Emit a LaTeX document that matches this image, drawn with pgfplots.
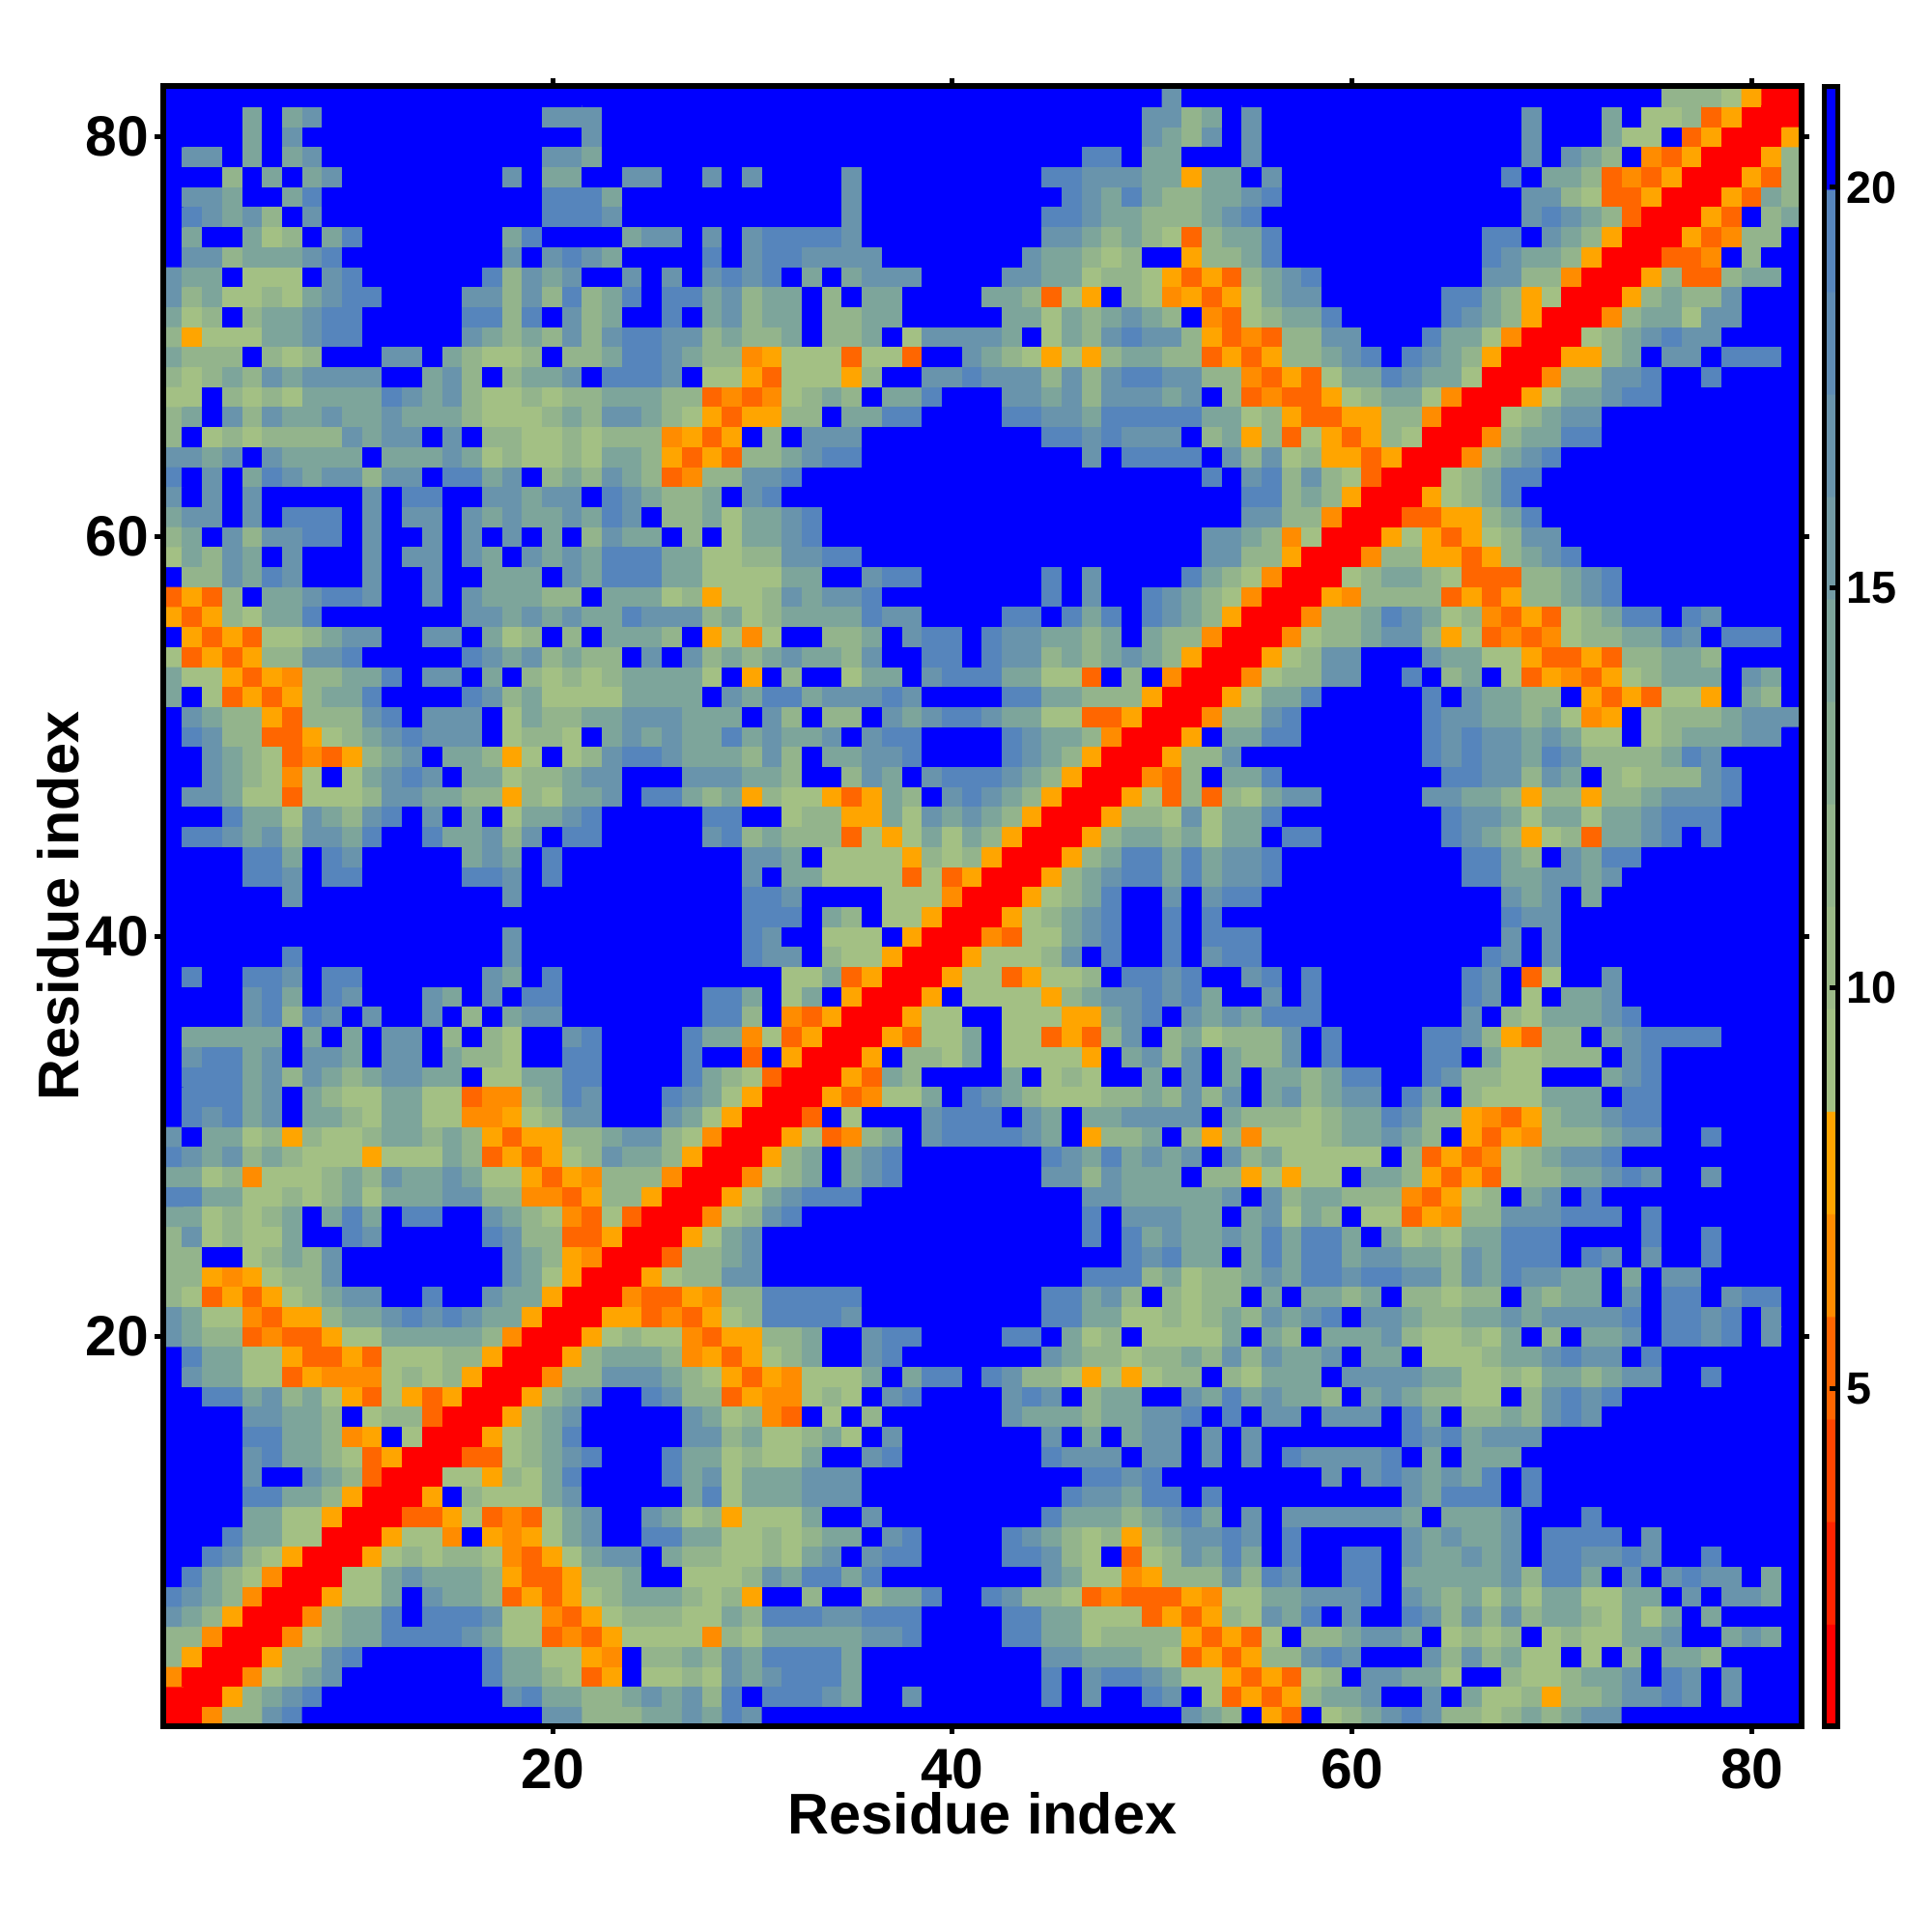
\documentclass[border=0pt]{standalone}
\usepackage{fontspec}
\setmainfont{Liberation Sans}
\usepackage{pgfplots}
\pgfplotsset{compat=1.18}
\pgfplotsset{colormap={distbands}{
rgb255(0)=(255,0,0) rgb255(1275)=(255,0,0)
rgb255(1280)=(255,36,0) rgb255(2555)=(255,36,0)
rgb255(2560)=(255,69,0) rgb255(3835)=(255,69,0)
rgb255(3840)=(255,102,0) rgb255(5115)=(255,102,0)
rgb255(5120)=(255,140,0) rgb255(6395)=(255,140,0)
rgb255(6400)=(255,165,0) rgb255(7675)=(255,165,0)
rgb255(7680)=(163,192,132) rgb255(8955)=(163,192,132)
rgb255(8960)=(155,185,135) rgb255(10235)=(155,185,135)
rgb255(10240)=(147,180,140) rgb255(11515)=(147,180,140)
rgb255(11520)=(135,172,145) rgb255(12795)=(135,172,145)
rgb255(12800)=(125,165,155) rgb255(14075)=(125,165,155)
rgb255(14080)=(115,155,165) rgb255(15355)=(115,155,165)
rgb255(15360)=(105,148,172) rgb255(16635)=(105,148,172)
rgb255(16640)=(95,140,180) rgb255(17915)=(95,140,180)
rgb255(17920)=(86,133,188) rgb255(19195)=(86,133,188)
rgb255(19200)=(0,0,255) rgb255(20480)=(0,0,255)
}}
% Cell values: one digit per residue, rows from index 82 (top) down to 1.
% Digit = distance class, value in \cellval.
\newcount\rowy \rowy=82
\newcount\colx
\newtoks\alldata
\newtoks\rowdata
\def\Rowstop{\Rowstop}
\def\cellval#1{\ifcase#1 21\or 19.3\or 16.75\or 14.2\or 11.65\or 9.1\or 7.8\or 6.55\or 5.27\or 1.4\fi}
\def\addcell#1{\advance\colx by 1 \ifnum\colx<83 \edef\tmp{\the\rowdata (\the\colx,\the\rowy) [\cellval{#1}] }\rowdata=\expandafter{\tmp}\fi}
\def\scan#1{\ifx#1\Rowstop\let\next\pad\else\addcell{#1}\let\next\scan\fi\next}
\def\pad{\ifnum\colx<82 \addcell{0}\expandafter\pad\fi}
\def\R#1{\colx=0 \rowdata={}\scan#1\Rowstop \edef\tmp{\the\rowdata\the\alldata}\alldata=\expandafter{\tmp}\advance\rowy by -1 }
\R{0000000000 0000000000 0000000 0000000000 0000000000 000 2 000 0000000000 0000000000 0 4445699}
\R{0000303200 0000000002 2200000 0000000000 0000000000 00 22430 2 0000000000 000 2 000 3 0 55486999}
\R{0000302000 0000000000 0200000 0000000000 0000000000 00 23420 2 0000000000 000 2 000 3 55086 9996}
\R{0220303200 0000000002 2300000 0000000000 000000000 11033000 2 0000000000 000 2 02340 786 99964}
\R{0004030320 0000000203 3002200 2020000 2 000000000 11 222 33 6 33 02 00000000000 1 0334 8786 999 684}
\R{0223003100 0000000001 1130000 0000000 2 0000000000 1 2 3 1 3 4 4 3 3 21 000000000000 2245 886 999 6834}
\R{0123240200 0000000001 1120000 0000000 2 000000000 1 1 2 3 3 4 4 4 3 2 1 0000000000000 212348 999 68043}
\R{0300354031 0000000310 0003220 2 0 2 1 1 1 1 2 000000000 2 2 3 4 3 4 5 8 4 3 31 0000000000 1102346 999 687440}
\R{0224333210 0000000202 1230000 1 0 2 1 1 2 2 2 2 0000000 2 3 3 4 5 4 0 0 6 4 4 31 0000000000 123346 999 887 0400}
\R{2330555021 0000001423 2002020 2 1 2 1 0 3 0 3 2 2 2 0000 2 2 3 3 5 4 4 5 6 8 6 8 4321 00000000 22447 999 64884 330}
\R{2435545321 1000022424 1431011 3 2 4 3 3 0 4 0 3 3 0000 3 3 4 8 5 6 0 4 5 7 6 8 6 5322 000000 113465 999 643442 000}
\R{3540433211 0000011410 2430010 3 2 4 3 3 0 4 4 3 3 00000 3 3 5 3 4 3 2 3 4 0 7 8 54331 00000 12346 999 7433522 000}
\R{4655533211 0000023434 2421122 4 3 4 4 3 0 4 4 3 0 5 2 2 2 2 3 0 5 3 4 2 1 2 2 4 6 8 784422 000 13357 999 5432122 0000}
\R{3444045400 0220345540 4431123 4 4 7 6 5 5 5 8 5 5 8 0 0 2 3 4 5 6 5 6 4 3 3 4 4 8 6 8644321 0 12346 999 66430 220 1110}
\R{4543423222 2003240433 2011120 5 5 6 8 5 5 5 6 4 0 0 2 2 1 2 2 2 4 2 4 2 1 1 2 2 4 4 786853312335 999 744221 001 0000}
\R{5504545333 3123245545 4433344 8 7 8 7 5 4 3 4 0 3 3 1 000 2 2 3 2 4 2 2 2 3 2 0 4 87886543357 999 6533211 0000000}
\R{4302423323 3233345554 3422345 6 8 6 6 4 4 0 3 3 1 1 0000 1 1 2 2 3 1 1 1 1 1 3 3 5468866447 999 543 22 0000000000}
\R{4054544442 3220204455 4544476 8 6 0 4 0 2 2 2 000000000 1 1 2 1 2 2 2 0 4 3 648568645 999 7433 11 0000000000}
\R{2232023333 0333235455 4533468 6 8 4 4 3 2 1 1 00000000000 2 0 1 1 1 1 0 2 42546686 999 74321 000000000000}
\R{1020312322 4220113204 3423487 4 4 2 2 1 00000000000000000000 1 0 2142458 999 54311 0000000000000}
\R{2020200000 2011002232 2012344 3 0 2 1 00000000000000000000000 114346 999 65431 00000000000000}
\R{3220201110 2022023233 2312044 3 5 3 3 2 1 000000000000000000000 22447 999 886643 1 0000000000000}
\R{4302422110 2002020203 0423304 0 5 3 3 2 1 0000000000000000000 2 2 3475 999 65686542 2 000000000000}
\R{5342302000 2022023023 2311133 5 5 4 4 2 2 1 1 00000000000000000 2 2 446 999 74466864321 00000000000}
\R{0442312000 2002003330 2311133 5 5 5 5 3 3 0 0 2 1 1 000000 1 0 2 0000 1 3 4 57 999 5433458 88 44321 000000000}
\R{8684033211 2002023334 4033354 6 5 5 4 2 3 2 2 1 00000000 1 0 2 0 0 1 2 3 4 5 7 999 6744448686 44321 000000000}
\R{6864533100 0000022323 2331222 4 3 5 4 3 3 3 3 1 2 2 0000 1 1 0 1 3 1 0 1 2 3 4 6 999 7443123547868 5431 10 12 0000}
\R{0 6 8 6 8 5 5 4 3 2 2 0 0 2 2 0 3 5 4 0 4 0 3 3 3 4 0 6 5 7 5 0 0 4 4 3 0 2 1 1 0 1 2 2 3 3 4 3 0 3 4 4 7 9 9 9 7 5 4 4 3 2 2 4 6 5 8 7 8 7 5 4 4 3 3 1 2 0 1 1 1 0}
\R{5 8 6 8 6 4 4 2 2 1 0 0 0 0 0 1 2 3 2 4 3 4 4 0 2 0 2 4 3 4 3 2 3 3 4 2 0 0 1 1 0 1 2 2 4 3 4 3 2 3 4 6 9 9 9 6 5 4 2 2 0 0 0 2 3 3 5 5 6 8 8 6 8 4 4 3 3 4 0 0 0 0}
\R{3 5 5 6 8 6 7 4 4 3 3 1 0 2 2 0 3 0 4 5 4 5 4 3 3 3 3 5 0 6 0 4 0 0 5 3 3 0 2 1 1 1 3 3 5 5 8 0 4 0 7 9 9 9 7 5 4 4 2 2 0 0 1 0 4 3 0 5 8 6 7 8 6 5 4 3 3 3 0 2 3 0}
\R{3 0 5 8 6 8 6 4 3 3 1 0 0 0 0 1 2 4 3 5 5 5 5 3 3 3 3 0 2 3 1 1 3 2 2 2 1 2 0 0 0 0 1 1 3 3 4 4 4 6 9 9 9 6 5 3 3 1 0 0 0 0 0 1 0 2 3 3 4 4 0 6 8 6 8 5 5 6 0 3 4 0}
\R{0 2 3 4 4 6 8 4 4 4 2 1 0 2 2 2 0 5 3 4 4 3 3 2 2 2 3 3 3 0 2 4 0 4 4 0 2 3 2 1 1 2 3 3 5 5 8 8 6 9 9 9 7 4 4 2 1 0 0 0 0 0 0 1 2 2 3 3 4 3 5 7 6 0 5 4 4 4 3 2 2 2}
\R{0 1 2 4 4 8 8 6 5 4 3 2 1 2 2 2 0 5 4 4 5 0 3 2 3 2 3 3 1 3 2 3 3 2 0 2 1 1 0 0 0 0 1 2 3 3 4 7 9 9 9 6 0 3 3 1 1 0 0 0 0 0 0 1 2 1 2 2 3 2 3 5 5 0 5 4 3 3 3 2 2 0}
\R{0 0 2 3 4 5 8 7 8 6 4 3 2 0 3 3 4 6 5 0 5 4 2 1 1 2 3 3 3 4 2 4 0 3 3 2 2 1 0 0 0 0 1 2 3 4 6 9 9 9 6 4 4 2 000000000 1 2 1 2 2 3 1 2 4 4 4 4 3 1 2 0 0 0 0}
\R{0 0 2 3 4 5 7 5 0 5 3 2 1 2 0 3 3 5 4 4 3 2 2 0 0 0 2 2 2 3 3 4 0 0 4 2 3 0 2 1 1 1 2 3 4 6 9 9 9 7 8 4 0 3 3 1 00000000 1 1 2 2 4 2 3 0 4 5 4 4 4 2 1 0 0 0}
\R{0 2 2 3 5 5 8 5 5 5 4 2 2 3 3 4 4 6 4 5 3 3 2 0 1 1 3 4 3 6 4 5 5 6 8 6 3 4 0 2 1 2 3 4 6 9 9 9 6 5 8 4 8 4 5 3 2 2 00000 2 2 3 3 4 6 4 4 6 4 4 3 2 2 2 1 0 0 0}
\R{0 0 0 1 3 3 5 2 3 4 2 1 0 2 0 3 0 5 3 3 2 1 0 0 0 0 0 1 1 0 0 5 4 4 6 6 3 5 2 3 2 3 4 6 9 9 9 6 4 4 5 2 5 3 3 1 00000000 1 2 2 3 5 3 3 5 3 3 2 1 1 1 0000}
\R{0 1 1 2 3 2 4 2 2 3 1 0 0 1 3 3 2 4 2 0 1 1 00000 2 1 4 3 4 4 4 8 5 6 5 3 5 3 4 6 9 9 9 6 4 3 3 4 3 5 3 3 0 1 1 000000 1 2 3 4 6 5 4 8 3 3 2 1 0 1 0000}
\R{0 0 0 0 1 1 3 0 1 2 0 0 0 0 0 3 2 3 0 1 0000000 0 0 2 2 3 0 5 5 5 5 6 4 5 4 6 9 9 9 6 4 3 1 1 3 1 3 2 2 1 000000000 1 1 3 4 0 2 3 1 1 00000000}
\R{0000 1 1 2 0 1 1 00000 1 1 2 0 1 0000000 0 0 2 0 3 3 5 5 5 5 8 5 8 6 9 9 9 6 4 3 2 1 1 3 1 3 2 2 1 000000000 1 1 3 3 2 2 3 2 000000000}
\R{0000002 0000000000 2 000000000 0 0 1 1 2 0 0 0 0 5 5 5 7 9 9 9 6 5 4 3 1 0 0 2 0 2 1 1 000000000000 2 3 2 0 3 0000000000}
\R{000000000000000000000000000 0 0 1 1 1 0 3 4 0 5 5 6 9 9 9 6 5 4 3 2 1 0 0 1 0 1 0 0000000000000 1 2 2 000000000000}
\R{00000000000000000 2 000000000 0 0 1 2 0 0 5 5 5 0 6 9 9 9 7 8 5 5 3 2 1 0 0 1 0 1 1 1 000000000000 2 0 2 000000000000}
\R{000000 1 0000000000 2 000000000 0 0 1 2 2 0 4 5 5 6 9 9 9 6 5 5 5 4 2 0 1 0 0 1 0 2 1 1 00000000000 1 2 0 2 000000000000}
\R{0 1 0 0 1 1 2 0 1 1 0 0 0 0 0 0 2 3 0 1 0000000 0 0 0 0 5 5 3 8 6 9 9 9 6 5 5 8 6 5 5 4 0 1 1 2 1 0 0 2 1 0 1 0000000 1 2 0 8 5 0 0 2 000000000}
\R{0 0 0 0 2 1 3 0 1 2 0 0 0 2 3 0 2 0 1 1 0000000 1 1 3 0 5 3 0 6 9 9 9 6 0 5 5 5 5 6 4 3 2 2 1 2 1 3 0 0 2 0 1 0000000 1 2 0 5 0 3 3 2 000000000}
\R{0 0 0 0 2 1 4 1 2 0 2 0 0 2 0 4 0 3 2 2 0000000 1 1 4 0 7 8 6 9 9 9 6 5 5 0 0 5 5 5 6 6 3 2 1 0 2 3 2 3 1 1 1 0000000 2 0 4 5 3 3 3 2 1 00000000}
\R{0 3 3 3 3 3 0 3 0 3 0 2 2 0 4 0 4 5 0 0 2 1 0 0 0 0 1 3 3 7 5 8 6 9 9 9 6 8 5 5 3 0 5 5 8 6 8 4 2 0 4 3 5 4 4 4 2 0 1 0000 1 1 2 4 6 8 4 4 0 3 2 1 1 1 1 0000}
\R{0 2 1 1 3 2 0 2 2 3 0 2 2 0 3 4 4 5 0 0 1 1 0 0 0 0 1 0 0 8 0 6 9 9 9 6 0 4 4 5 3 0 5 5 5 5 6 0 3 2 4 2 0 3 4 4 2 0 1 0000 1 1 0 3 5 5 4 4 4 0 2 1 0000000}
\R{0 1 1 1 3 2 4 2 3 4 3 2 2 3 3 0 5 5 3 3 1 1 0 0 0 0 1 3 4 5 8 9 9 9 6 8 3 4 0 0 0 0 3 0 5 4 5 0 0 3 0 2 0 3 0 3 3 4 3 1 1 0 0 1 2 4 4 5 5 0 0 0 3 2 1 0000000}
\R{0 1 1 1 3 2 0 3 4 5 5 3 3 5 5 8 7 7 4 3 1 2 0 0 0 1 2 3 5 6 9 9 9 6 8 7 5 5 3 0 1 2 3 4 5 5 5 4 4 3 4 2 4 2 0 3 2 4 3 2 2 0 1 3 0 4 5 5 5 3 3 3 0 1 1 0000000}
\R{0 1 2 1 3 2 0 3 3 4 5 3 3 5 5 7 7 6 5 4 2 2 0 0 0 2 3 5 6 9 9 9 8 0 5 0 0 0 2 1 1 1 0 2 3 0 3 3 2 2 2 2 0 3 4 4 4 5 4 3 3 1 2 4 4 6 7 8 6 4 3 3 2 1 1 0000000}
\R{2 0 3 3 5 4 6 4 5 5 4 3 3 4 3 4 6 8 6 6 4 4 3 2 2 4 5 7 9 9 9 6 5 8 7 4 3 0 2 1 1 1 1 2 3 0 6 4 4 3 0 4 6 4 7 5 5 5 4 3 3 2 3 4 0 6 8 6 7 4 4 4 3 2 2 0 0 1 0 0 0 0}
\R{1 2 3 2 4 3 4 5 5 5 6 5 5 5 3 4 8 6 8 6 5 4 2 3 3 4 6 9 9 9 6 4 3 0 3 2 1 0 0 0 0 0 0 0 1 2 3 1 3 2 3 2 0 2 4 3 5 5 5 5 5 0 4 8 6 8 7 5 4 3 2 2 1 000000000}
\R{3 3 5 4 7 5 5 5 4 3 4 2 3 3 2 3 5 5 6 8 6 7 4 4 4 7 9 9 9 7 5 4 3 0 3 2 1 0 0 0 0 0 0 0 2 2 4 2 3 3 3 0 4 4 6 5 6 5 5 0 3 3 4 6 8 6 8 5 4 4 3 3 2 1 2 0 0 2 0 0 0 0}
\R{1 1 3 3 5 5 4 5 4 3 5 3 3 3 2 2 4 4 7 7 8 6 4 4 6 9 9 9 6 5 3 2 1 1 1 00000000000 2 2 3 3 3 3 3 2 0 2 4 3 3 4 4 4 7 8 6 5 4 0 3 2 0 1 0000000000}
\R{3 3 5 4 5 4 3 0 3 1 3 0 1 1 0 0 2 3 4 5 7 8 5 8 9 9 9 7 5 4 2 1 00000000000000 1 0 2 2 2 3 3 0 3 2 5 3 4 0 5 5 8 6 7 4 4 2 2 2 1 1 1 0 1 0000000}
\R{4 2 5 4 5 5 3 0 0 1 2 0 0 0 0 0 1 2 4 4 8 8 6 9 9 9 6 5 3 2 0000000000000000 1 0 1 3 2 3 3 2 3 1 3 1 1 3 0 3 5 4 5 3 3 1 1 1 0000 1 0 0 1 0000}
\R{4 4 0 0 5 4 3 4 2 0 0 0 0 0 0 0 0 2 3 4 6 7 9 9 9 8 4 4 3 2 000000000000000000 1 2 1 3 3 0 3 1 3 1 1 3 2 2 3 3 4 2 3 1 1 1 0 1 2 0 2 0 0 1 0 0 0 0}
\R{4 4 6 7 6 5 4 4 2 00000000 2 3 5 6 9 9 9 6 5 4 4 2 2 0000000000000000 1 1 1 4 3 5 4 4 3 2 3 1 1 2 1 1 2 2 4 2 3 1 2 2 3 3 0 3 0 2 2 0 0 0 0 0}
\R{4 5 8 6 8 6 5 4 3 2 2 0 0 1 0 0 2 3 3 6 9 9 9 7 8 8 6 7 4 4 1 1 1 1 1 000000000 1 1 3 2 4 0 4 5 4 4 0 3 0 3 3 4 3 0 4 4 5 4 4 0 3 4 3 3 0 2 0 1 1 0 2 1 1 0}
\R{2 3 5 5 7 8 6 6 4 3 3 2 1 2 1 2 3 3 6 9 9 9 6 6 8 7 8 6 5 4 1 1 1 1 2 000000000 1 1 3 3 5 5 4 5 4 3 4 2 3 2 1 0 2 2 3 4 4 3 3 2 3 2 2 2 2 1 0 1 1 2 1 0 2 0}
\R{2 3 4 4 8 7 8 8 6 5 5 3 3 3 3 3 4 7 9 9 9 6 5 4 5 5 7 8 6 6 4 4 3 0 0 2 1 1 0 0 0 0 1 1 0 3 5 4 0 5 5 5 5 3 0 3 4 0 3 3 3 2 4 5 5 4 5 3 0 4 0 3 3 2 0 1 1 2 1 0 2 0}
\R{0 1 3 3 5 5 6 8 8 6 8 5 5 5 4 4 6 9 9 9 6 4 3 3 3 4 7 6 8 6 5 4 3 0 0 2 1 0 0 0 0 0 0 0 2 3 4 4 5 4 4 3 4 2 4 2 3 3 2 0 3 3 0 5 5 5 4 3 3 2 1 2 2 0 1 0000000}
\R{0 2 3 3 5 5 8 6 7 7 7 5 4 5 4 6 9 9 9 7 4 4 2 2 2 3 4 5 6 8 6 7 5 5 5 3 0 3 1 1 0 1 2 4 4 5 6 5 6 5 4 4 0 4 5 3 3 3 0 2 2 2 2 3 3 5 5 4 5 3 3 4 3 2 2 0 0 1 0 0 0 0}
\R{0 0 1 1 3 2 4 3 5 6 8 5 6 8 6 9 9 9 6 4 3 2 0 0 1 2 4 4 8 6 7 7 5 4 5 0 2 1 0 0 0 0 2 1 2 0 4 3 3 0 0 2 3 1 3 2 3 3 4 0 3 2 3 4 4 5 5 0 4 2 1 2 1 000000000}
\R{0 0 0 0 2 2 3 3 4 0 5 4 4 8 9 9 9 6 4 3 2 0 0 0 0 0 2 3 5 4 7 8 0 5 0 4 0 0 0 0 0 0 2 3 3 3 4 3 3 2 2 1 0 1 0 2 2 0 2 2 2 0 1 3 0 4 4 3 4 2 1 2 0000000000}
\R{0 0 0 0 1 1 3 3 4 7 6 0 5 9 9 9 6 5 4 3 1 0 0 0 0 0 2 2 4 3 5 5 4 3 5 0 2 0 0 0 0 0 0 0 2 0 3 0 3 2 2 0 2 0 2 0000000 1 2 1 3 2 2 2 0000000000000}
\R{0 0 0 0 2 1 3 3 4 5 8 6 9 9 9 8 8 5 4 3 2 1 0 0 0 1 3 3 5 4 5 5 3 0 0 2 1 0 0 0 0 0 0 0 1 2 2 2 0 2 2 0 2 0 2 0 1 2 2 2 2 1 0 3 0 3 3 3 00000000000000}
\R{0 0 0 0 2 0 0 2 3 4 8 9 9 9 5 5 6 4 5 3 1 0 0 0 0 1 3 2 5 3 3 3 2 2 2 00000000000 1 1 2 1 0 0 0 0 0 0 0 0 2 0 2 1 2 3 2 3 1 0 1 0000000000000}
\R{0 0 0 0 1 1 3 3 4 6 9 9 9 6 0 4 5 5 5 3 2 0 0 0 0 0 3 1 5 3 3 3 2 2 2 0000000000 1 2 2 3 1 1 0 1 0 00000000 2 3 1 1 1 0 1 0000000000000}
\R{0 0 0 0 3 3 5 5 6 9 9 9 8 8 6 5 8 7 8 5 3 2 0 0 2 3 5 4 6 5 5 5 3 0 0 2 00000000 1 3 3 3 4 3 2 1 3 0 2 0 2 2 2 2 2 2 3 0 3 3 3 2 0 0 0 1 0000000000}
\R{0 0 0 1 3 3 5 5 9 9 9 6 5 5 7 0 6 7 6 5 3 2 0 0 1 1 3 3 5 5 4 5 4 3 3 0 2 1 0 0 0 0 1 2 3 4 5 4 6 4 3 2 2 1 2 0 1 00000 2 3 2 3 3 2 0 1 1 1 1 0 2 0000000}
\R{0 0 1 2 4 5 6 9 9 9 6 5 4 5 4 4 5 7 8 6 5 3 2 2 0 3 4 4 5 5 4 5 3 2 0 2 1 1 0 0 0 0 1 1 2 4 5 0 8 5 4 2 3 1 3 0 1 0 0 1 1 0 2 3 3 2 3 2 0 1 1 2 2 1 2 0 0 1 0 0 0 0}
\R{0 1 3 4 5 7 9 9 9 5 5 3 2 3 3 3 4 6 8 8 6 4 4 3 0 0 5 5 5 4 2 3 1 1 3 1 00000000 2 3 5 5 7 6 4 4 4 2 4 1 2 0 0 1 1 0 3 3 3 3 3 2 4 1 1 3 0 2 0 2 1 2 2 0 3 0}
\R{1 2 3 4 7 9 9 9 6 5 5 3 0 2 3 3 4 8 6 8 6 5 4 3 3 3 4 5 4 6 0 0 4 0 0 4 3 3 1 0 0 1 2 4 4 5 8 7 8 8 8 6 7 5 5 3 3 2 2 2 1 0 2 3 4 3 5 3 5 3 3 5 5 3 3 0 2 0 2 2 3 0}
\R{2 3 4 6 9 9 9 7 4 3 3 1 0 1 1 1 2 5 5 7 8 6 5 4 4 4 5 5 3 4 1 1 1 2 2 1 1 1 0 0 0 0 1 1 3 3 5 5 5 8 6 8 6 4 5 2 3 1 0 2 0 0 1 2 4 2 4 2 4 3 3 4 5 3 5 3 0 3 0 0 0 0}
\R{4 4 7 9 9 9 7 5 4 3 3 1 1 1 1 2 3 5 5 8 7 8 6 5 5 5 5 7 4 5 3 3 3 3 3 2 2 1 0 0 0 0 1 1 3 3 5 4 4 4 4 6 8 6 8 5 0 4 4 3 2 2 3 0 5 4 5 4 0 5 4 5 5 3 3 2 0 0 3 2 3 0}
\R{4 6 9 9 9 6 4 4 2 1 0 0 0 0 0 0 1 3 3 5 5 6 7 0 4 4 3 4 2 3 1 1 1 1 3 000000000 2 2 3 3 3 4 5 8 6 8 6 4 4 2 1 2 0 0 0 2 4 2 4 3 5 5 0 5 0 4 0 3 3 4 0 0 0 0}
\R{7 9 9 9 7 5 4 3 2 0 0 0 0 0 0 0 1 3 3 4 5 8 6 0 5 5 4 5 2 3 2 1 1 1 3 000000000 1 0 2 1 1 2 3 5 5 6 8 6 8 5 4 0 2 2 3 3 5 0 0 4 5 5 4 3 3 2 0 1 2 0 2 0 0 0}
\R{9 9 9 6 4 3 2 1 0 0 0 0 0 0 0 0 0 2 1 3 3 4 4 3 2 3 2 4 1 0 1 1 1 2 3 0 0 2 000000 1 0 2 0 0 1 2 0 5 8 6 8 6 4 3 3 2 0 0 2 0 3 5 5 4 6 4 4 3 2 2 1 2 0 2 0 0 0}
\R{9 9 7 4 4 2 1 000000000000 2 2 4 4 4 3 3 2 3 1 2 000000000000000000000 2 3 4 0 6 8 0 5 4 3 2 1 2 4 4 5 4 3 4 3 2 2 000000000}
\edef\doplot{\noexpand\addplot[matrix plot*,mesh/cols=82,point meta=explicit] coordinates {\the\alldata};}
\begin{document}
\begin{tikzpicture}
\useasboundingbox (0,0) rectangle (20cm,20cm);
\begin{axis}[
  at={(1.685cm,2.13cm)}, anchor=south west,
  scale only axis, width=16.97cm, height=16.975cm,
  xmin=0.5, xmax=82.5, ymin=0.5, ymax=82.5,
  xtick={20,40,60,80}, ytick={20,40,60,80},
  tick align=outside, major tick length=0.8mm,
  tick style={line width=0.5mm,black},
  axis line style={line width=0.6mm,black},
  axis on top,
  xticklabel pos=lower, yticklabel pos=left,
  /pgf/number format/assume math mode=true,
  ticklabel style={font=\fontsize{16.7}{20}\bfseries\selectfont},
  xticklabel style={yshift=-0.3mm},
  yticklabel style={xshift=0.6mm},
  every axis x label/.style={at={(axis description cs:0.5,0)},anchor=center,yshift=-9mm},
  every axis y label/.style={at={(axis description cs:0,0.5)},anchor=center,rotate=90,yshift=10.8mm},
  label style={font=\fontsize{16.9}{20}\bfseries\selectfont},
  xlabel={Residue index}, ylabel={Residue index},
  colormap name=distbands,
  point meta min=0.78, point meta max=21.26,
  colorbar,
  colorbar style={
    at={(parent axis.south east)}, anchor=south west, xshift=-0.7mm,
    width=1.4mm, height=16.975cm,
    ytick={5,10,15,20},
    tick pos=right, yticklabel pos=right,
    major tick length=0.8mm,
    tick style={line width=0.5mm,black},
    axis line style={line width=0.55mm,black},
    /pgf/number format/assume math mode=true,
    yticklabel style={font=\fontsize{13.3}{16}\bfseries\selectfont,xshift=-0.3mm},
  },
]
\doplot
\end{axis}
\end{tikzpicture}
\end{document}
